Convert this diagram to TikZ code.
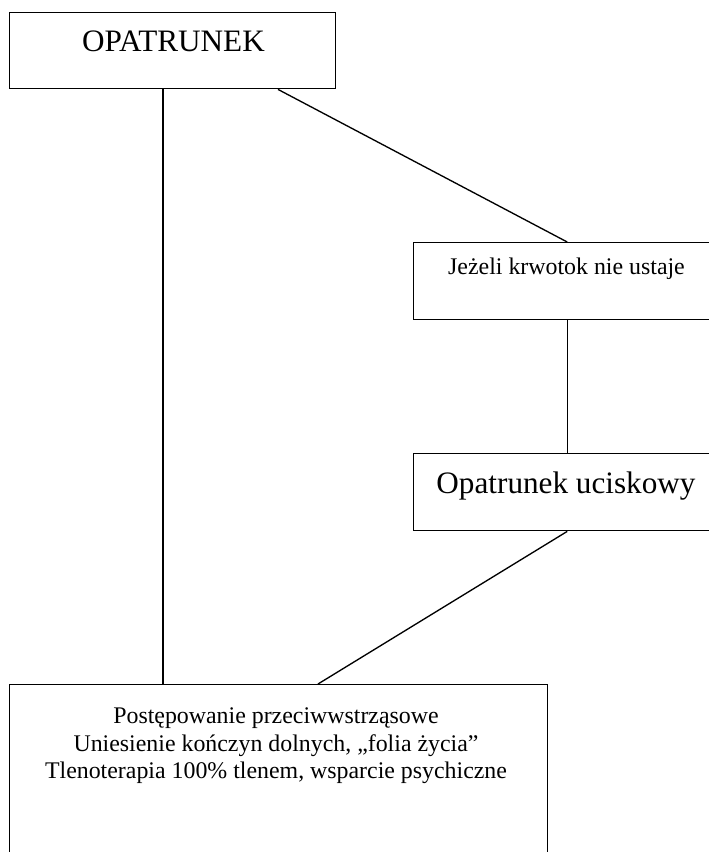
\documentclass[tikz,border=0pt]{standalone}
\usepackage{fontspec}
\setmainfont{Liberation Serif}
\begin{document}
\begin{tikzpicture}[x=0.75pt,y=-0.75pt,
  box/.style={draw=black,line width=1.05pt,rectangle,inner sep=0pt,anchor=north west},
  conn/.style={draw=black,line width=1pt},
  big/.style={font=\fontsize{23.4}{26}\selectfont,anchor=base,inner sep=0pt},
  small/.style={font=\fontsize{17.9}{20.6}\selectfont,anchor=base,inner sep=0pt}]
\useasboundingbox (0,0) rectangle (709,852);
\node[box,minimum width=326*0.75pt,minimum height=76*0.75pt] (opa) at (9,12) {};
\node[box,minimum width=307*0.75pt,minimum height=77*0.75pt] (jez) at (413,242) {};
\node[box,minimum width=307*0.75pt,minimum height=77*0.75pt] (uci) at (413,453) {};
\node[box,minimum width=538*0.75pt,minimum height=190*0.75pt] (pos) at (9,684) {};
\node[big] (topt) at (173.5,52) {OPATRUNEK};
\node[small] (jezt) at (566.5,274) {Jeżeli krwotok nie ustaje};
\node[big] (ucit) at (566,493) {Opatrunek uciskowy};
\node[small] (pos1) at (276,723) {Postępowanie przeciwwstrząsowe};
\node[small] (pos2) at (276,751) {Uniesienie kończyn dolnych, „folia życia”};
\node[small] (pos3) at (276,778.5) {Tlenoterapia 100\% tlenem, wsparcie psychiczne};
\draw[conn] (163,0 |- opa.south) -- (163,0 |- pos.north);
\draw[conn] (278,0 |- opa.south) -- (jez.north);
\draw[conn] (jez.south) -- (uci.north);
\draw[conn] (uci.south) -- (318,0 |- pos.north);
\end{tikzpicture}
\end{document}
